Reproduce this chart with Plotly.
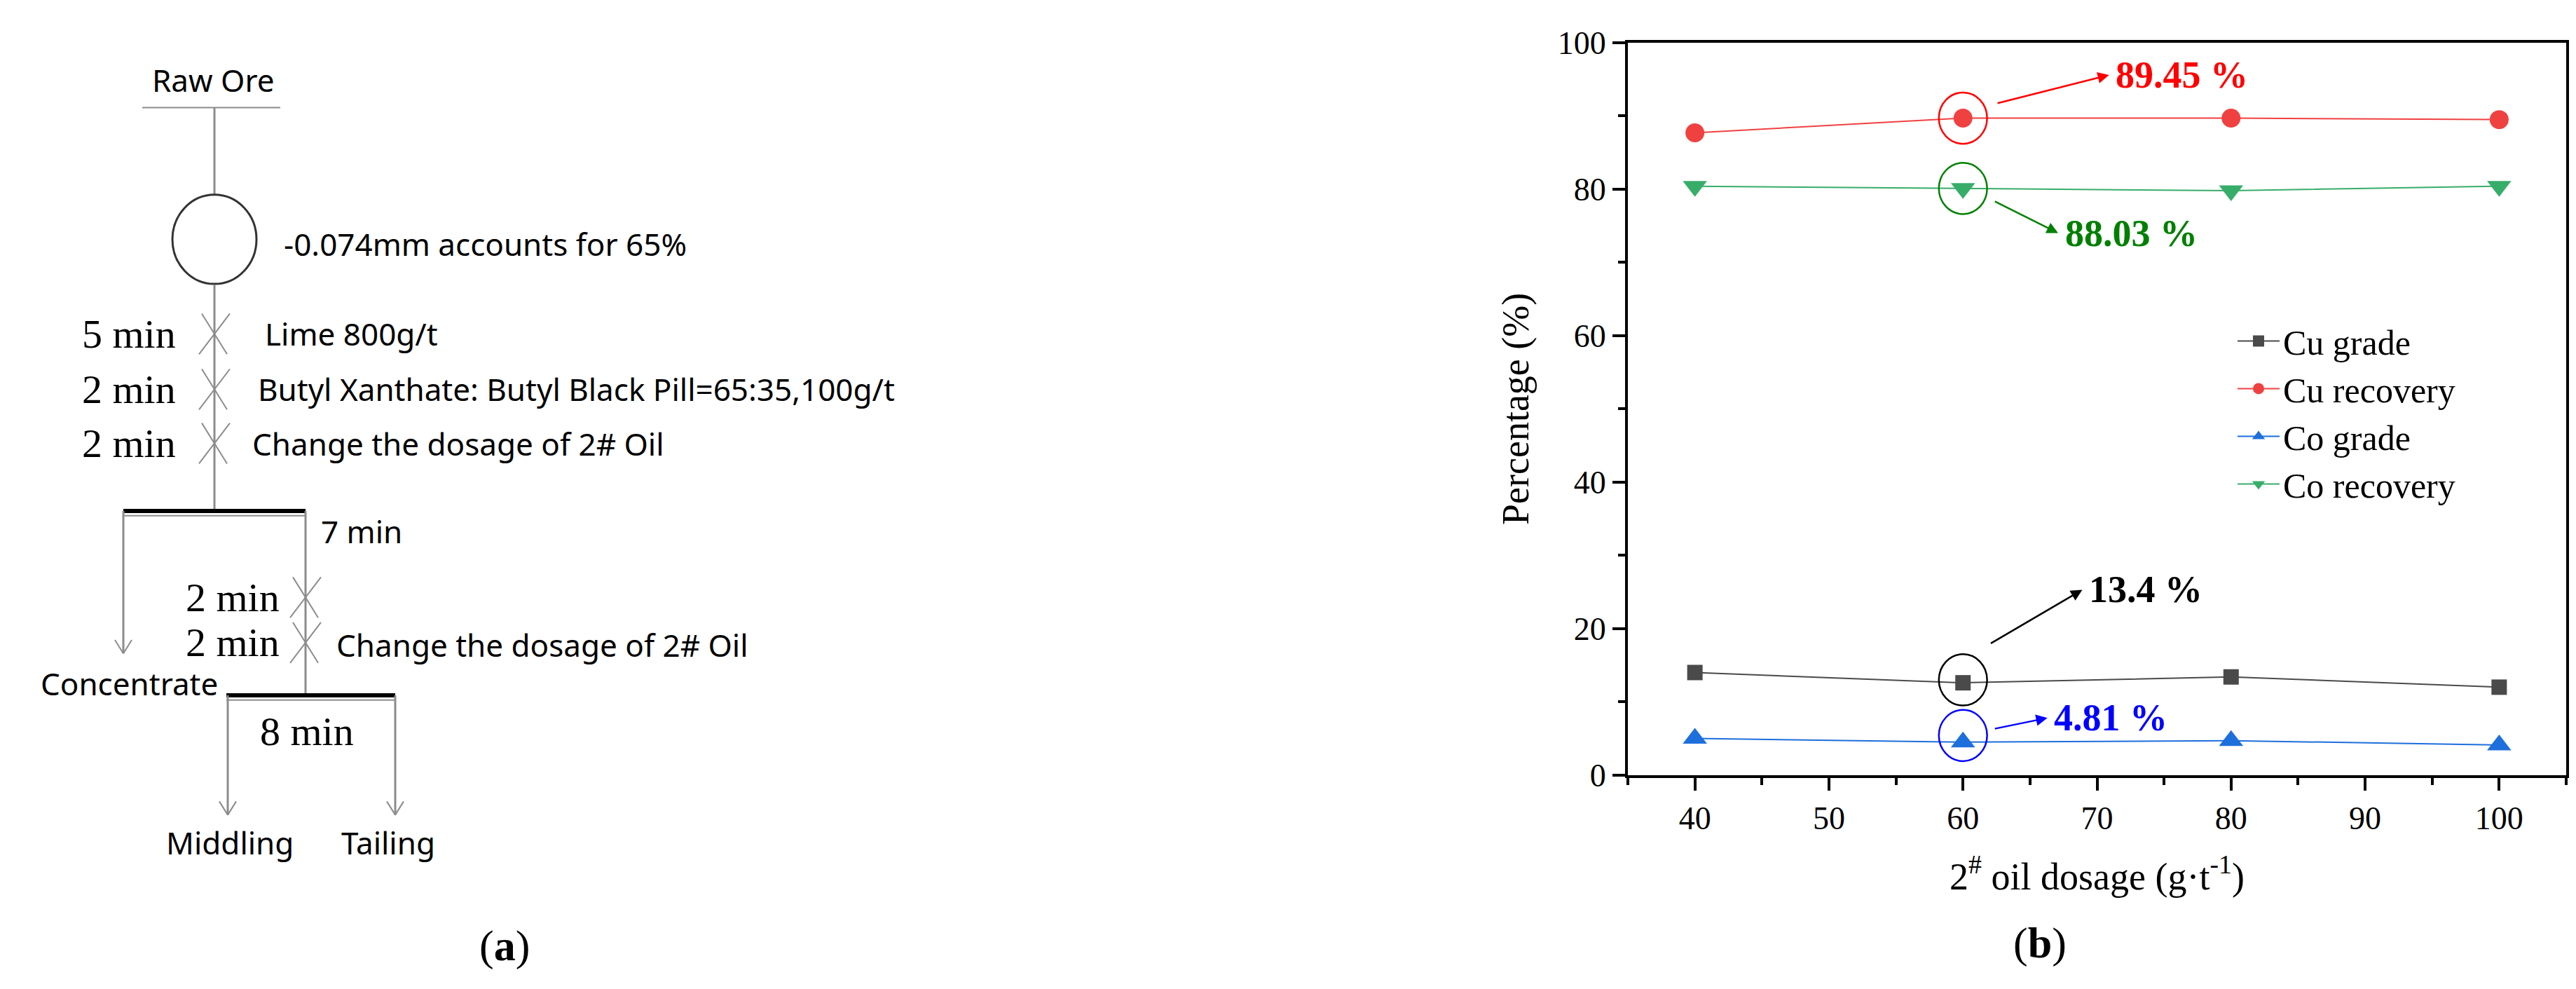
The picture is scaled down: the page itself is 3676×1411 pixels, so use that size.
import plotly.graph_objects as go

W, H = 3676, 1411

# chart (b) data
dosage = [40, 60, 80, 100]
cu_grade = [14.0, 12.6, 13.4, 12.0]
cu_recovery = [87.7, 89.7, 89.7, 89.5]
co_grade = [5.0, 4.5, 4.7, 4.1]
co_recovery = [80.4, 80.1, 79.8, 80.4]

x_ticks = [40, 50, 60, 70, 80, 90, 100]
y_ticks = [0, 20, 40, 60, 80, 100]


def px(x):
    return x / W


def py(y):
    return 1 - y / H


SANS = "Noto Sans"
SERIF = "Liberation Serif"

fig = go.Figure()

series = [
    ("Cu grade", cu_grade, "#4a4a4a", "square", 22),
    ("Cu recovery", cu_recovery, "#f04141", "circle", 27),
    ("Co grade", co_grade, "#1d6fdc", "triangle-up", 30),
    ("Co recovery", co_recovery, "#37ad6a", "triangle-down", 30),
]
for name, vals, col, sym, size in series:
    fig.add_trace(go.Scatter(x=dosage, y=vals, name=name, mode="lines+markers",
                             line=dict(color=col, width=2),
                             marker=dict(symbol=sym, size=size, color=col)))

shapes = []
annotations = []

# ---- flowchart (a), drawn in paper space ----
GREY = "#8c8c8c"
DARK = "#333333"


def line(x0, y0, x1, y1, color=GREY, width=3):
    shapes.append(dict(type="line", xref="paper", yref="paper",
                       x0=px(x0), y0=py(y0), x1=px(x1), y1=py(y1),
                       line=dict(color=color, width=width)))


def text(x, y, s, size=44, font=SANS, anchor="left"):
    annotations.append(dict(x=px(x), y=py(y), xref="paper", yref="paper", text=s,
                            showarrow=False, xanchor=anchor, yanchor="middle",
                            font=dict(family=font, size=size, color="black")))


def cross(x, y):
    line(x - 22, y + 30, x + 22, y - 30, width=2)
    line(x - 18, y - 30, x + 18, y + 30, width=2)


def arrow_down(x, y0, y1):
    line(x, y0, x, y1)
    line(x - 12, y1 - 20, x, y1, width=2)
    line(x + 12, y1 - 20, x, y1, width=2)


def bar(x0, x1, y):
    line(x0, y, x1, y, color="black", width=6)
    line(x0, y + 7, x1, y + 7, color=GREY, width=2)


text(296, 84, "Raw Ore", anchor="center")
line(195, 125, 392, 125, color=GREY, width=2)
line(298, 125, 298, 254)
shapes.append(dict(type="circle", xref="paper", yref="paper",
                   x0=px(238), x1=px(358), y0=py(386), y1=py(254),
                   line=dict(color=DARK, width=3)))
text(395, 327, "-0.074mm accounts for 65%")
line(298, 387, 298, 722)
for yy, lab, desc, dx in [(460, "5 min", "Lime 800g/t", 368),
                          (542, "2 min", "Butyl Xanthate: Butyl Black Pill=65:35,100g/t", 358),
                          (622, "2 min", "Change the dosage of 2# Oil", 350)]:
    cross(298, yy)
    text(245, yy, lab, size=58, font=SERIF, anchor="right")
    text(dx, yy, desc)
bar(168, 428, 722)
arrow_down(168, 722, 933)
line(428, 722, 428, 995)
text(448, 752, "7 min")
for yy, lab in [(850, "2 min"), (917, "2 min")]:
    cross(428, yy)
    text(393, yy, lab, size=58, font=SERIF, anchor="right")
text(470, 920, "Change the dosage of 2# Oil")
text(305, 977, "Concentrate", anchor="right")
bar(315, 556, 995)
arrow_down(317, 995, 1172)
arrow_down(556, 995, 1172)
text(430, 1048, "8 min", size=58, font=SERIF, anchor="center")
text(320, 1213, "Middling", anchor="center")
text(546, 1213, "Tailing", anchor="center")
text(712, 1366, "(<b>a</b>)", size=62, font=SERIF, anchor="center")
text(2903, 1362, "(<b>b</b>)", size=62, font=SERIF, anchor="center")

# ---- callouts on chart (b) ----
callouts = [
    (cu_recovery[1], "red", "89.45 %", 62.5, 91.7, 70.9, 95.6),
    (co_recovery[1], "green", "88.03 %", 62.3, 78.4, 67.1, 74.0),
    (cu_grade[1] + 0.4, "black", "13.4 %", 62.0, 17.9, 68.9, 25.3),
    (co_grade[1] + 0.9, "blue", "4.81 %", 62.3, 6.3, 66.3, 7.8),
]
for cy, col, lab, tx, ty, hx, hy in callouts:
    shapes.append(dict(type="circle", xref="x", yref="y", x0=58.2, x1=61.8,
                       y0=cy - 3.5, y1=cy + 3.5, line=dict(color=col, width=2.5)))
    annotations.append(dict(x=hx, y=hy, ax=tx, ay=ty, xref="x", yref="y",
                            axref="x", ayref="y", text="", showarrow=True,
                            arrowhead=2, arrowsize=1.3, arrowwidth=2.5, arrowcolor=col))
    annotations.append(dict(x=hx + 0.4, y=hy, xref="x", yref="y", text="<b>" + lab + "</b>",
                            showarrow=False, xanchor="left", yanchor="middle",
                            font=dict(family=SERIF, size=54, color=col)))

axis_common = dict(showline=True, linecolor="black", linewidth=4, mirror=True,
                   ticks="outside", ticklen=18, tickwidth=4, tickcolor="black",
                   showgrid=False, zeroline=False,
                   tickfont=dict(family=SERIF, size=46, color="black"))

fig.update_layout(
    width=W, height=H, margin=dict(l=0, r=0, t=0, b=0),
    paper_bgcolor="white", plot_bgcolor="white",
    shapes=shapes, annotations=annotations,
    xaxis=dict(domain=[px(2315), px(3654)], range=[35, 105], tickvals=x_ticks,
               minor=dict(ticks="outside", ticklen=10, tickwidth=4, dtick=5, tick0=35),
               title=dict(text="2<sup>#</sup> oil dosage (g·t<sup>-1</sup>)",
                          font=dict(family=SERIF, size=54, color="black"), standoff=40),
               **axis_common),
    yaxis=dict(domain=[py(1113), py(29)], range=[0, 100], tickvals=y_ticks,
               minor=dict(ticks="outside", ticklen=10, tickwidth=4, dtick=10),
               title=dict(text="Percentage (%)",
                          font=dict(family=SERIF, size=54, color="black"), standoff=25),
               **axis_common),
    legend=dict(x=px(3180), y=py(430), xanchor="left", yanchor="top",
                bgcolor="rgba(0,0,0,0)", itemwidth=60,
                font=dict(family=SERIF, size=50, color="black")),
)

fig.write_html("out.html")
